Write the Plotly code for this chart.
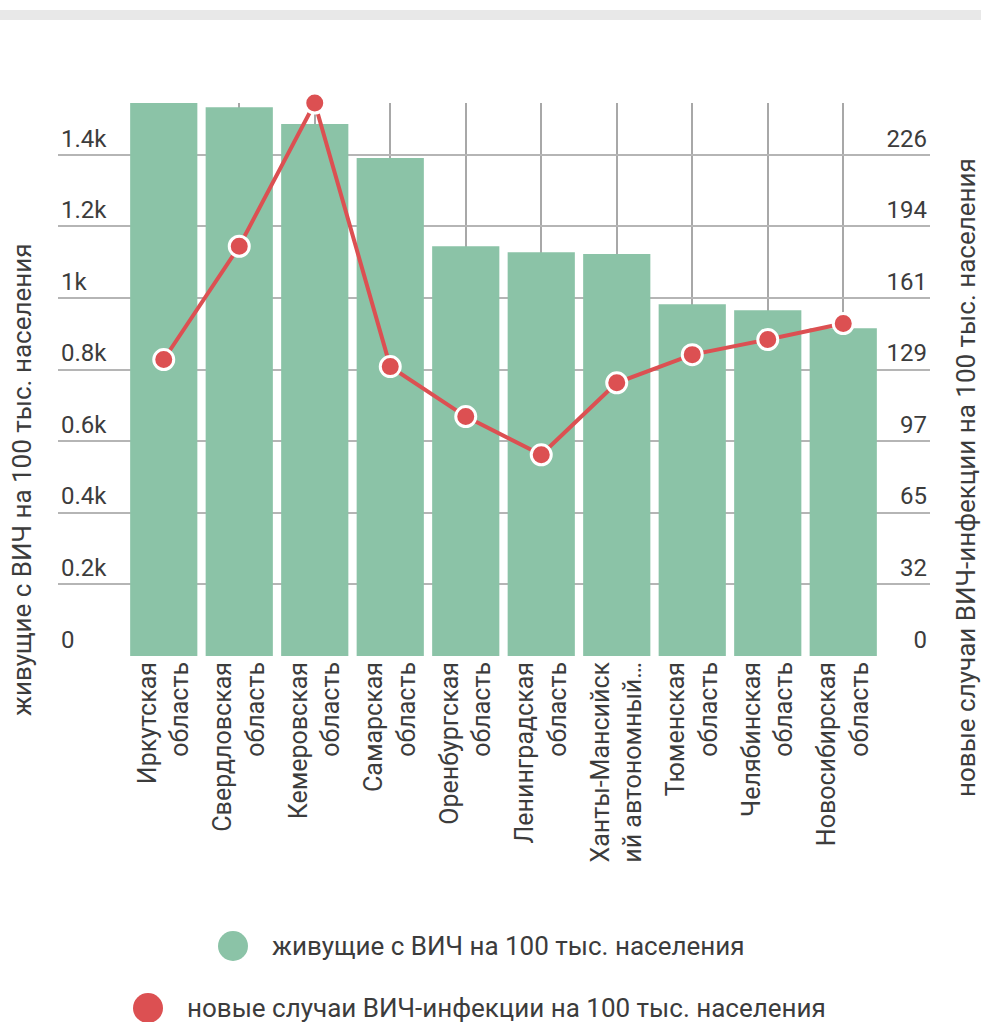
import plotly.graph_objects as go

categories = [
    "Иркутская<br>область",
    "Свердловская<br>область",
    "Кемеровская<br>область",
    "Самарская<br>область",
    "Оренбургская<br>область",
    "Ленинградская<br>область",
    "Ханты-Мансийск<br>ий автономный…",
    "Тюменская<br>область",
    "Челябинская<br>область",
    "Новосибирская<br>область",
]
living_hiv = [1545, 1533, 1486, 1391, 1145, 1128, 1123, 983, 966, 916]
new_cases = [133.5, 184.5, 249, 130.3, 107.8, 90.6, 123, 135.7, 142.5, 149.7]

left_tickvals = [0, 200, 400, 600, 800, 1000, 1200, 1400]
left_ticktext = ["0", "0.2k", "0.4k", "0.6k", "0.8k", "1k", "1.2k", "1.4k"]
right_ticktext = ["0", "32", "65", "97", "129", "161", "194", "226"]

name_bar = "живущие с ВИЧ на 100 тыс. населения"
name_line = "новые случаи ВИЧ-инфекции на 100 тыс. населения"

GREEN = "#8bc3a7"
RED = "#dc5052"
FONT = "Roboto"
TXT = "#3c3c3c"

W, H = 981, 1022
L, R, T, B = 58, 51, 103, 366
plot_w = W - L - R
plot_h = H - T - B

y1max = max(living_hiv)
y2max = max(new_cases)
right_tickvals = [v * y2max / y1max for v in left_tickvals]

fig = go.Figure()
fig.add_trace(go.Bar(
    x=categories, y=living_hiv, name=name_bar,
    marker=dict(color=GREEN, line=dict(width=0)),
    yaxis="y", showlegend=False, hoverinfo="skip",
))
fig.add_trace(go.Scatter(
    x=categories, y=new_cases, name=name_line, mode="lines+markers",
    line=dict(color=RED, width=4),
    marker=dict(color=RED, size=20, line=dict(color="white", width=3)),
    yaxis="y2", showlegend=False, hoverinfo="skip", cliponaxis=False,
))

cat_w = 75.5
pad_l = (126 - L) / cat_w
pad_r = (W - R - 881) / cat_w

fig.update_layout(
    width=W, height=H,
    margin=dict(l=L, r=R, t=T, b=B, pad=0),
    paper_bgcolor="white", plot_bgcolor="white",
    font=dict(family=FONT, size=24, color=TXT),
    bargap=0.11,
    xaxis=dict(
        type="category",
        range=[-0.5 - pad_l, len(categories) - 0.5 + pad_r],
        tickangle=-90,
        showgrid=True, gridcolor="#a8a8a8", gridwidth=1.5,
        showline=False, zeroline=False, ticks="",
        tickfont=dict(family=FONT, size=25, color=TXT),
    ),
    yaxis=dict(
        range=[0, y1max],
        tickvals=left_tickvals, ticktext=left_ticktext,
        ticklabelposition="inside top",
        showgrid=True, gridcolor="#b5b5b5", gridwidth=1.5,
        zeroline=False, showline=False, ticks="",
        tickfont=dict(family=FONT, size=24, color=TXT),
    ),
    yaxis2=dict(
        range=[0, y2max], overlaying="y", side="right",
        tickvals=right_tickvals, ticktext=right_ticktext,
        ticklabelposition="inside top",
        showgrid=False, zeroline=False, showline=False, ticks="",
        tickfont=dict(family=FONT, size=24, color=TXT),
    ),
)

def px_x(x):
    return (x - L) / plot_w

def px_y(y):
    return (H - B - y) / plot_h

# top gray strip
fig.add_shape(type="rect", xref="paper", yref="paper",
              x0=px_x(0), x1=px_x(W), y0=px_y(20), y1=px_y(10),
              fillcolor="#e8e8e8", line=dict(width=0), layer="below")

# axis titles
fig.add_annotation(text=name_bar, xref="paper", yref="paper",
                   x=px_x(22), y=px_y(480), textangle=-90, showarrow=False,
                   xanchor="center", yanchor="middle",
                   font=dict(family=FONT, size=26, color=TXT))
fig.add_annotation(text=name_line, xref="paper", yref="paper",
                   x=px_x(966), y=px_y(478), textangle=-90, showarrow=False,
                   xanchor="center", yanchor="middle",
                   font=dict(family=FONT, size=26, color=TXT))

# legend (custom, centered items)
for cy, color, label, cx in [(946, GREEN, name_bar, 233), (1008, RED, name_line, 148)]:
    r = 15
    fig.add_shape(type="circle", xref="paper", yref="paper",
                  x0=px_x(cx - r), x1=px_x(cx + r), y0=px_y(cy + r), y1=px_y(cy - r),
                  fillcolor=color, line=dict(width=0))
    fig.add_annotation(text=label, xref="paper", yref="paper",
                       x=px_x(cx + r + 22), y=px_y(cy), xanchor="left", yanchor="middle",
                       showarrow=False, font=dict(family=FONT, size=26, color=TXT))

fig.write_html("out.html")
